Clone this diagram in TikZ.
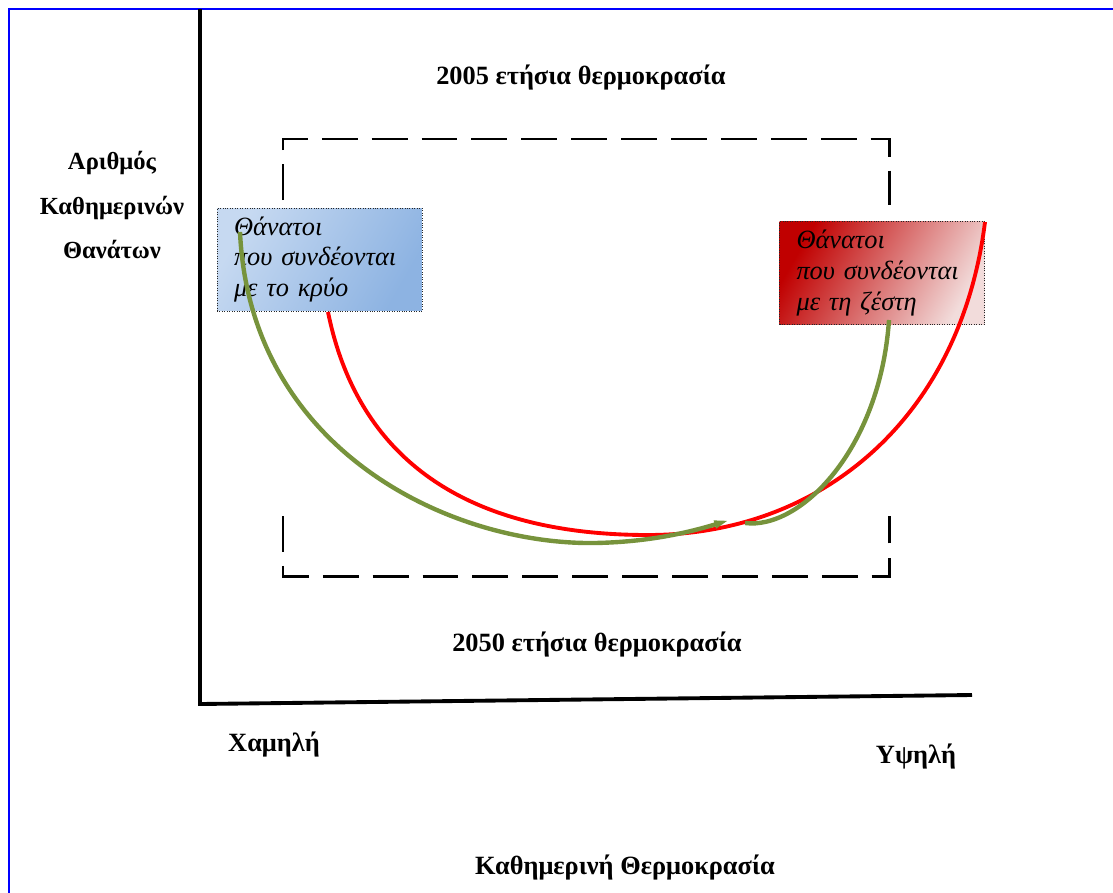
\documentclass[tikz,border=0pt]{standalone}
\usepackage{fontspec}
\setmainfont{Liberation Serif}
\usetikzlibrary{arrows.meta}
\definecolor{coldA}{HTML}{C6D9F1}
\definecolor{coldB}{HTML}{8DB3E2}
\definecolor{hotA}{HTML}{C00000}
\definecolor{hotB}{HTML}{F2DCDB}
\definecolor{olivec}{HTML}{77933C}
\begin{document}
\begin{tikzpicture}[x=0.02cm,y=-0.02cm,semithick,
  lbl/.style={font=\fontsize{15}{18}\selectfont\bfseries},
  deathbox/.style={draw=black!85,densely dotted,thin,minimum width=4.1cm,minimum height=2.06cm,
    inner xsep=0.34cm,text width=3.42cm,align=left,font=\fontsize{15}{17.5}\selectfont\itshape},
  bracket/.style={dash pattern=on 20.4pt off 8pt,line width=1.7pt},
  curvered/.style={red,line width=2.2pt},
  curvegreen/.style={olivec,line width=2.5pt}]
\useasboundingbox (0,0) rectangle (1113,893);
\draw[blue,line width=1.2pt] (9,893) -- (9,9) -- (1113,9);
\coordinate (ytop) at (200,9);
\coordinate (o) at (200,704);
\coordinate (xend) at (972,695);
\draw[line width=2.2pt] (ytop) -- (o) -- (xend);
\draw[bracket] (283,200) -- (283,139) -- (889,139) -- (889,205);
\draw[bracket] (283,516) -- (283,576) -- (889,576) -- (889,516);
\node[deathbox,left color=coldA,right color=coldB,shading angle=60] (cold) at (319.5,259.5)
  {Θάνατοι\\που συνδέονται\\με το κρύο};
\node[deathbox,left color=hotA,right color=hotB,shading angle=60] (hot) at (882,273)
  {Θάνατοι\\που συνδέονται\\με τη ζέστη};
\coordinate (r1) at (328,312);
\coordinate (rm) at (648,535);
\coordinate (r2) at (985,222);
\coordinate (g1) at (240,232);
\coordinate (gm) at (595,543);
\coordinate (g2) at (730,520);
\coordinate (g3) at (745,523);
\coordinate (g4) at (889,320);
\draw[curvered] (r1) .. controls (360,470) and (480,535) .. (rm)
  .. controls (820,535) and (960,420) .. (r2);
\draw[curvegreen,-{Triangle[length=9pt,width=4pt]}] (g1) .. controls (250,450) and (450,545) .. (gm)
  .. controls (650,542) and (690,532) .. (g2);
\draw[curvegreen] (g3) .. controls (800,530) and (880,450) .. (g4);
\node[lbl] (t2005) at (581,78) {2005 ετήσια θερμοκρασία};
\node[lbl] (t2050) at (597,645) {2050 ετήσια θερμοκρασία};
\node[lbl,align=center,font=\fontsize{14}{25.5}\selectfont\bfseries] (ylab) at (112,205)
  {Αριθμός\\Καθημερινών\\Θανάτων};
\node[lbl] (low) at (274,745) {Χαμηλή};
\node[lbl] (high) at (916,757) {Υψηλή};
\node[lbl] (xlab) at (625,868) {Καθημερινή Θερμοκρασία};
\end{tikzpicture}
\end{document}
